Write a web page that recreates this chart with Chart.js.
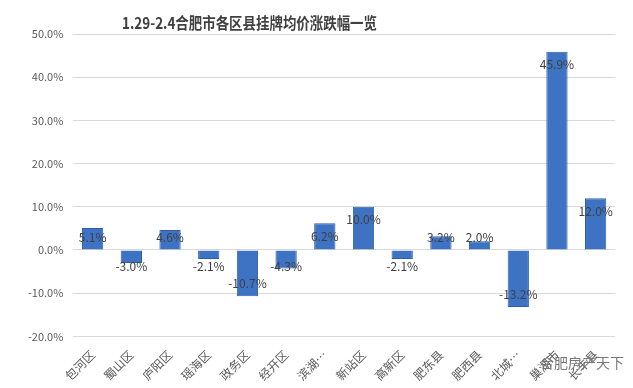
<!DOCTYPE html>
<html>
<head>
<meta charset="utf-8">
<script src="https://cdn.jsdelivr.net/npm/chart.js@4"></script>
<style>
  html, body { margin: 0; padding: 0; background: #fff; }
  #wrap { position: relative; width: 633px; height: 388px; }
  #title {
    position: absolute; left: 122px; top: 10px;
    font: bold 16px "Noto Sans CJK SC", sans-serif; color: #404040;
    white-space: nowrap;
    transform: scaleX(0.84); transform-origin: left top;
  }
  #mark {
    position: absolute; left: 540px; top: 352px;
    font: 14px "Noto Sans CJK SC", sans-serif; color: #777;
  }
</style>
</head>
<body>
<div id="wrap">
  <canvas id="myChart" width="633" height="388"></canvas>
  <div id="title">1.29-2.4合肥市各区县挂牌均价涨跌幅一览</div>
  <div id="mark">合肥房产天下</div>
</div>
<script>
var districts = ["包河区", "蜀山区", "庐阳区", "瑶海区", "政务区", "经开区", "滨湖…", "新站区", "高新区", "肥东县", "肥西县", "北城…", "巢湖市", "长丰县"];
var changes = [5.1, -3.0, 4.6, -2.1, -10.7, -4.3, 6.2, 10.0, -2.1, 3.2, 2.0, -13.2, 45.9, 12.0];
var yMin = -20, yMax = 50, yStep = 10;

// value labels, inside end but kept clear of the zero line
var barLabels = {
  id: "barLabels",
  afterDatasetsDraw: function(chart) {
    var ctx = chart.ctx;
    var meta = chart.getDatasetMeta(0);
    var zero = chart.scales.y.getPixelForValue(0);
    ctx.save();
    ctx.font = "12px 'Noto Sans CJK SC', sans-serif";
    ctx.fillStyle = "#404040";
    ctx.textAlign = "center";
    ctx.textBaseline = "middle";
    meta.data.forEach(function(bar, i) {
      var v = changes[i];
      var y;
      if (v >= 0) {
        y = Math.min(bar.y + 13, zero - 13);
      } else {
        y = Math.max(bar.y - 13, zero + 16);
      }
      ctx.fillText(v.toFixed(1) + "%", bar.x, y);
    });
    ctx.restore();
  }
};

new Chart("myChart", {
  type: "bar",
  data: {
    labels: districts,
    datasets: [{
      data: changes,
      backgroundColor: "#3d73c2",
      borderColor: "#2f5ea8",
      borderWidth: 1,
      barPercentage: 0.55,
      categoryPercentage: 1.0
    }]
  },
  options: {
    responsive: false,
    animation: false,
    layout: { padding: { top: 34, right: 18, bottom: 2, left: 18 } },
    plugins: {
      legend: { display: false },
      tooltip: { enabled: false }
    },
    scales: {
      x: {
        grid: { display: false },
        border: { display: false },
        ticks: {
          maxRotation: 45, minRotation: 45, autoSkip: false,
          color: "#595959",
          font: { family: "Noto Sans CJK SC", size: 12 }
        }
      },
      y: {
        min: yMin, max: yMax,
        border: { display: false },
        grid: { color: "#d9d9d9", drawTicks: false },
        ticks: {
          stepSize: yStep, padding: 10,
          color: "#595959",
          font: { family: "Noto Sans CJK SC", size: 11 },
          callback: function(v) { return v.toFixed(1) + "%"; }
        }
      }
    }
  },
  plugins: [barLabels]
});
</script>
</body>
</html>
